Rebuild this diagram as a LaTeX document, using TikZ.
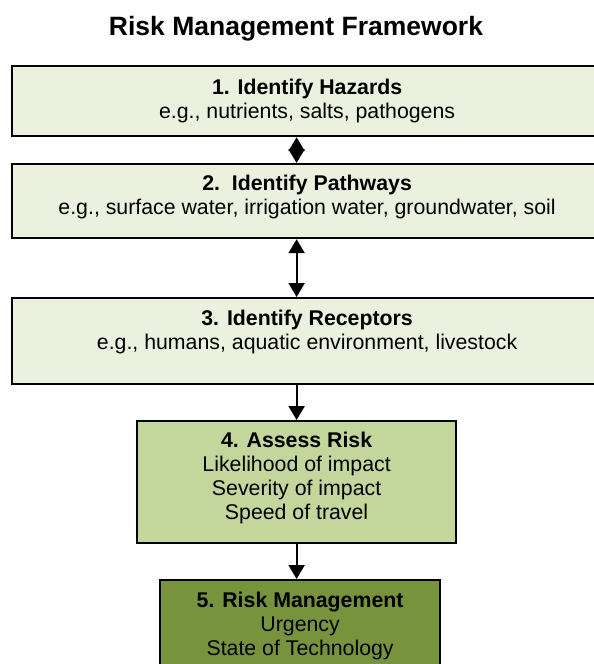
\documentclass[tikz,border=0pt]{standalone}
\usepackage{fontspec}
\setmainfont{Liberation Sans}
\usetikzlibrary{arrows.meta,calc}
\definecolor{lightolive}{HTML}{EBF1DE}
\definecolor{midolive}{HTML}{C3D69B}
\definecolor{darkolive}{HTML}{77933C}
\newcommand{\topstrut}{\rule{0pt}{20pt}}
\begin{document}
\begin{tikzpicture}[x=1pt,y=-1pt,
  box/.style={draw=black, line width=2.2pt, rectangle, inner sep=0pt, anchor=north west},
  txt/.style={align=center, inner sep=0pt, anchor=north, font=\fontsize{21.3}{24}\selectfont},
  arr/.style={line width=2.2pt, -{Triangle[length=14pt,width=16pt]}},
  darr/.style={line width=2.2pt, {Triangle[length=14pt,width=16pt]}-{Triangle[length=14pt,width=16pt]}}]
\useasboundingbox (0,0) rectangle (594,664);
\node[font=\fontsize{26.5}{30}\selectfont\bfseries, anchor=base, inner sep=0pt] (title) at (296,35) {Risk Management Framework};
\node[box, fill=lightolive, minimum width=590pt, minimum height=70pt] (B1) at (11,65) {};
\node[box, fill=lightolive, minimum width=590pt, minimum height=74pt] (B2) at (11,163) {};
\node[box, fill=lightolive, minimum width=590pt, minimum height=86pt] (B3) at (11,297) {};
\node[box, fill=midolive, minimum width=319pt, minimum height=122pt] (B4) at (136,420) {};
\node[box, fill=darkolive, minimum width=280pt, minimum height=130pt] (B5) at (159,579) {};
\node[txt] (T1) at ($(B1.north)+(0,9)$) {\topstrut\textbf{1. Identify Hazards}\\e.g., nutrients, salts, pathogens};
\node[txt] (T2) at ($(B2.north)+(0,7)$) {\topstrut\textbf{2.\ \ Identify Pathways}\\e.g., surface water, irrigation water, groundwater, soil};
\node[txt] (T3) at ($(B3.north)+(0,8)$) {\topstrut\textbf{3. Identify Receptors}\\e.g., humans, aquatic environment, livestock};
\node[txt] (T4) at ($(B4.north)+(0,7)$) {\topstrut\textbf{4. Assess Risk}\\Likelihood of impact\\Severity of impact\\Speed of travel};
\node[txt] (T5) at ($(B5.north)+(0,8)$) {\topstrut\textbf{5. Risk Management}\\Urgency\\State of Technology};
\draw[darr] (B1.south -| B4.north) -- (B2.north -| B4.north);
\draw[darr] (B2.south -| B4.north) -- (B3.north -| B4.north);
\draw[arr] (B3.south -| B4.north) -- (B4.north);
\draw[arr] (B4.south) -- (B5.north -| B4.south);
\end{tikzpicture}
\end{document}
